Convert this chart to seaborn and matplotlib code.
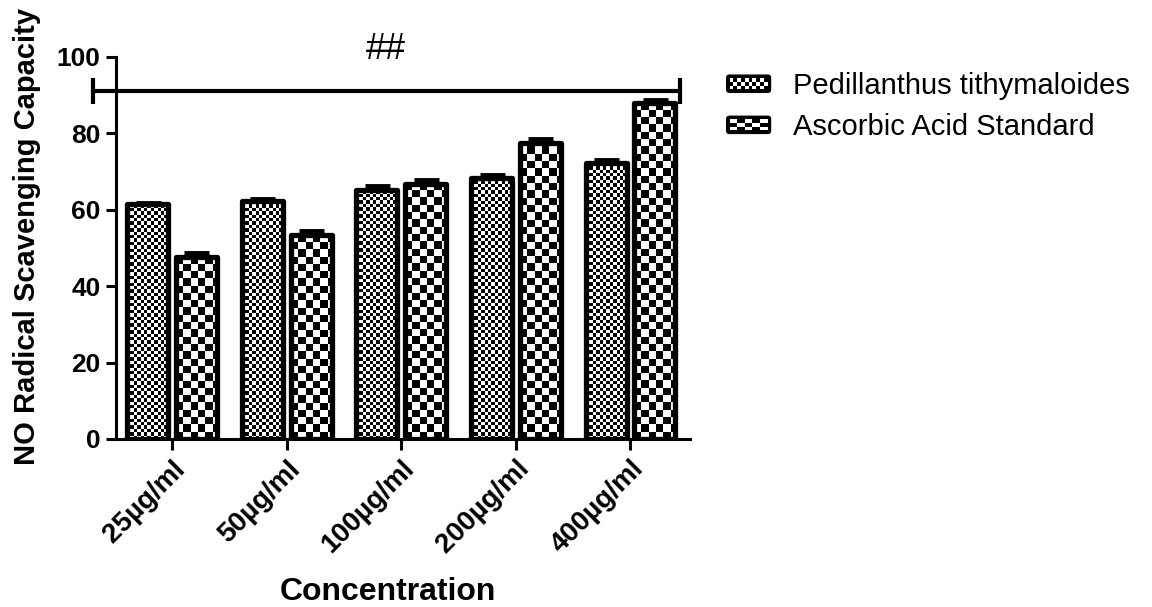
import numpy as np
import pandas as pd
import matplotlib
matplotlib.use("Agg")
import matplotlib.pyplot as plt
import seaborn as sns
from matplotlib.legend_handler import HandlerBase
from matplotlib.patches import Rectangle, FancyBboxPatch, Patch

# Nitric-oxide radical scavenging (%), mean and SEM per concentration
concentrations = ["25µg/ml", "50µg/ml", "100µg/ml", "200µg/ml", "400µg/ml"]
series = ["Pedillanthus tithymaloides", "Ascorbic Acid Standard"]
pedillanthus = [61.5, 62.3, 65.3, 68.2, 72.3]
pedillanthus_sem = [0.3, 0.4, 0.9, 0.8, 0.7]
ascorbic = [47.6, 53.4, 66.8, 77.6, 88.0]
ascorbic_sem = [1.1, 1.0, 0.9, 1.0, 0.7]

df = pd.DataFrame({
    "Concentration": concentrations * 2,
    "Value": pedillanthus + ascorbic,
    "Series": [series[0]] * len(concentrations) + [series[1]] * len(concentrations),
})

sns.set_style("ticks")
plt.rcParams["font.family"] = ["Liberation Sans", "DejaVu Sans"]
plt.rcParams["text.color"] = "black"
plt.rcParams["axes.labelcolor"] = "black"

W, H = 1152, 607
fig = plt.figure(figsize=(W / 100, H / 100), dpi=100)
ax = fig.add_axes([116 / W, 1 - 439 / H, (690 - 116) / W, (439 - 57) / H])

sns.barplot(data=df, x="Concentration", y="Value", hue="Series",
            order=concentrations, hue_order=series,
            palette=["white", "white"], width=0.85, gap=0.16,
            errorbar=None, edgecolor="black", linewidth=3.8,
            legend=False, ax=ax)

ax.set_xlim(-0.49, 4.52)
ax.set_ylim(0, 100)


def checker_fill(patch, cell_px, zorder):
    """Fill a bar with a black/white checkerboard clipped to its outline."""
    x0, y0 = patch.get_x(), patch.get_y()
    w, h = patch.get_width(), patch.get_height()
    px0, py0 = ax.transData.transform((x0, y0))
    px1, py1 = ax.transData.transform((x0 + w, y0 + h))
    nx = int(np.ceil((px1 - px0) / cell_px))
    ny = int(np.ceil((py1 - py0) / cell_px))
    grid = (np.add.outer(np.arange(ny), np.arange(nx)) % 2).astype(float)
    dx = w * cell_px * nx / (px1 - px0)
    dy = h * cell_px * ny / (py1 - py0)
    im = ax.imshow(grid, cmap="gray", vmin=0, vmax=1,
                   extent=(x0, x0 + dx, y0, y0 + dy), origin="lower",
                   interpolation="nearest", aspect="auto", zorder=zorder)
    im.set_clip_path(patch)


cell_sizes = [3.4, 7.3]
sems = [pedillanthus_sem, ascorbic_sem]
for container, cell, sem in zip(ax.containers, cell_sizes, sems):
    xs, tops = [], []
    for bar in container.patches:
        checker_fill(bar, cell, zorder=2)
        bar.set_facecolor("none")
        bar.set_zorder(3)
        bar.set_joinstyle("round")
        xs.append(bar.get_x() + bar.get_width() / 2)
        tops.append(bar.get_height())
    ax.errorbar(xs, tops, yerr=[np.zeros(len(sem)), sem], fmt="none",
                ecolor="black", elinewidth=3, capsize=9, capthick=3.5,
                zorder=2.6)

ax.set_xlim(-0.49, 4.52)
ax.set_ylim(0, 100)

# significance bar across all groups
x_left, x_right, y_sig = -0.694, 4.43, 91
ax.plot([x_left, x_right], [y_sig, y_sig], color="black", lw=3,
        solid_capstyle="butt", clip_on=False, zorder=4)
for xe in (x_left, x_right):
    ax.plot([xe, xe], [y_sig - 3.4, y_sig + 3.4], color="black", lw=3,
            solid_capstyle="butt", clip_on=False, zorder=4)
ax.text((x_left + x_right) / 2, 102.0, "##", ha="center", va="center",
        fontsize=26, color="black", clip_on=False)

# axes styling
sns.despine(ax=ax)
for side in ("left", "bottom"):
    ax.spines[side].set_linewidth(2.2)
    ax.spines[side].set_color("black")
ax.set_yticks(range(0, 101, 20))
ax.tick_params(axis="y", width=2.2, length=7, labelsize=19, pad=4, colors="black")
ax.tick_params(axis="x", width=2.2, length=8, labelsize=20, pad=4, colors="black")
for lab in ax.get_yticklabels():
    lab.set_fontweight("bold")
ax.set_xticks(range(len(concentrations)))
ax.set_xticklabels(concentrations, rotation=45, ha="right",
                   rotation_mode="anchor", fontweight="bold")
ax.set_xlabel("Concentration", fontsize=23, fontweight="bold", color="black")
ax.set_ylabel("NO Radical Scavenging Capacity", fontsize=21,
              fontweight="bold", color="black")
ax.xaxis.set_label_coords(0.473, -0.36)
ax.yaxis.set_label_coords(-0.155, 0.53)
ax.yaxis.label.set_va("center")


class CheckerHandler(HandlerBase):
    def __init__(self, ncols, nrows):
        super().__init__()
        self.ncols = ncols
        self.nrows = nrows

    def create_artists(self, legend, orig_handle, xdescent, ydescent,
                       width, height, fontsize, trans):
        x0, y0 = -xdescent, -ydescent
        arts = [FancyBboxPatch((x0, y0), width, height,
                               boxstyle="round,pad=0,rounding_size=2.5",
                               facecolor="black", edgecolor="black", lw=0,
                               transform=trans)]
        inset = 2.6
        cw = (width - 2 * inset) / self.ncols
        ch = (height - 2 * inset) / self.nrows
        for r in range(self.nrows):
            for c in range(self.ncols):
                if (r + c) % 2 == 0:
                    arts.append(Rectangle((x0 + inset + c * cw, y0 + inset + r * ch),
                                          cw, ch, facecolor="white", lw=0,
                                          transform=trans))
        return arts


h1, h2 = Patch(), Patch()
leg = fig.legend(handles=[h1, h2], labels=series,
                 handler_map={h1: CheckerHandler(10, 3), h2: CheckerHandler(5, 3)},
                 loc="upper left", bbox_to_anchor=(726 / W, 1 - 72 / H),
                 frameon=False, fontsize=21, handlelength=1.55, handleheight=0.6,
                 handletextpad=0.75, labelspacing=0.45, borderpad=0,
                 borderaxespad=0, labelcolor="black")

fig.savefig("out.png", dpi=100)
